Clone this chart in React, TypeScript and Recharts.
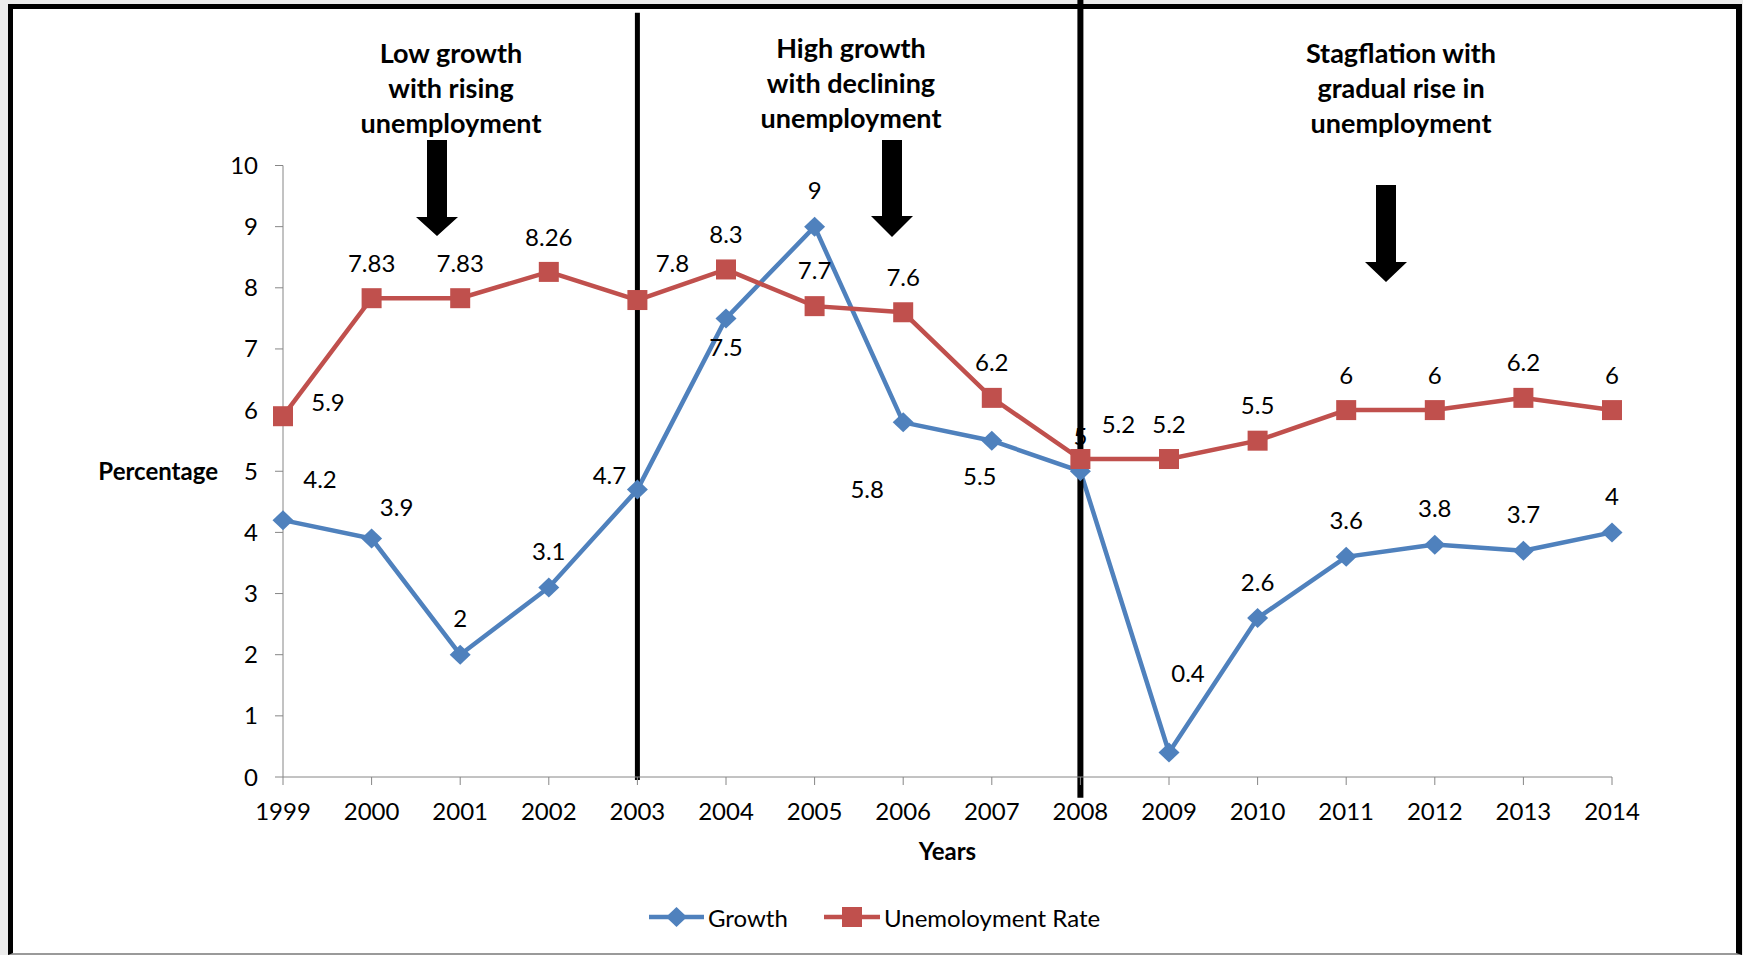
import React from "react";
import { LineChart, Line, XAxis, YAxis, ReferenceLine, LabelList } from "recharts";

const years = ["1999", "2000", "2001", "2002", "2003", "2004", "2005", "2006", "2007", "2008", "2009", "2010", "2011", "2012", "2013", "2014"];
const growth = [4.2, 3.9, 2, 3.1, 4.7, 7.5, 9, 5.8, 5.5, 5, 0.4, 2.6, 3.6, 3.8, 3.7, 4];
const unemployment = [5.9, 7.83, 7.83, 8.26, 7.8, 8.3, 7.7, 7.6, 6.2, 5.2, 5.2, 5.5, 6, 6, 6.2, 6];
const yTicks = [0, 1, 2, 3, 4, 5, 6, 7, 8, 9, 10];

// manual label placement like in the original sheet (dx, dy from the point)
const growthLabelPos = [[37, -42], [25, -32], [0, -37], [0, -37], [-28, -15], [0, 28], [0, -37], [-36, 66], [-12, 35], [0, -36], [19, -80], [0, -37], [0, -37], [0, -37], [0, -37], [0, -37]];
const unempLabelPos = [[45, -15], [0, -36], [0, -36], [0, -35], [35, -38], [0, -36], [0, -37], [0, -36], [0, -36], [38, -36], [0, -36], [0, -36], [0, -36], [0, -36], [0, -36], [0, -36]];

const BLUE = "#4f81bd";
const RED = "#c0504d";
const AXIS = "#868686";
const FONT = "Lato, 'Liberation Sans', sans-serif";
const FS = 24;

const data = years.map((year, i) => ({ year, growth: growth[i], unemp: unemployment[i] }));

const Diamond = (props: any) => {
  const { cx, cy } = props;
  if (cx == null || cy == null) return null;
  return <polygon points={`${cx},${cy - 10} ${cx + 10.5},${cy} ${cx},${cy + 10} ${cx - 10.5},${cy}`} fill={BLUE} />;
};

const Square = (props: any) => {
  const { cx, cy } = props;
  if (cx == null || cy == null) return null;
  return <rect x={cx - 10} y={cy - 10} width={20} height={20} fill={RED} />;
};

const makeLabel = (pos: number[][]) => (props: any) => {
  const { x, y, value, index } = props;
  const [dx, dy] = pos[index] || [0, -36];
  return (
    <text x={x + dx} y={y + dy} textAnchor="middle" dominantBaseline="central" fontSize={FS} fill="#000" fontFamily={FONT}>
      {value}
    </text>
  );
};

const notes = [
  { cx: 451, y: 52, lines: ["Low growth", "with rising", "unemployment"] },
  { cx: 851, y: 47, lines: ["High growth", "with declining", "unemployment"] },
  { cx: 1401, y: 52, lines: ["Stagflation with", "gradual rise in", "unemployment"] },
];

const arrows = [
  { cx: 437, top: 140, neck: 217, tip: 236 },
  { cx: 892, top: 140, neck: 216, tip: 237 },
  { cx: 1386, top: 185, neck: 262, tip: 282 },
];

export default function App() {
  return (
    <div style={{ position: "absolute", left: 0, top: 0, width: 1743, height: 955, background: "#ececec", fontFamily: FONT, overflow: "hidden" }}>
      <div
        style={{
          position: "absolute", left: 8, top: 4, width: 1734, height: 951, boxSizing: "border-box", background: "#fff",
          borderLeft: "5px solid #000", borderTop: "5px solid #000", borderRight: "6px solid #000", borderBottom: "2px solid #9a9a9a",
        }}
      />
      <div style={{ position: "absolute", left: 0, top: 0 }}>
        <LineChart width={1743} height={955} data={data} margin={{ top: 165.5, right: 131, bottom: 148, left: 223 }}>
          <XAxis
            dataKey="year"
            stroke={AXIS}
            tickSize={8}
            tickMargin={18}
            tick={{ fill: "#000", fontSize: FS }}
            tickLine={{ stroke: AXIS }}
            label={{ value: "Years", position: "bottom", offset: 36, style: { fontWeight: 700, fontSize: FS, fill: "#000" } }}
          />
          <YAxis
            domain={[0, 10]}
            ticks={yTicks}
            stroke={AXIS}
            tickSize={8}
            tickMargin={17}
            tick={{ fill: "#000", fontSize: FS }}
            tickLine={{ stroke: AXIS }}
            label={{ value: "Percentage", position: "left", offset: 5, angle: 0, style: { fontWeight: 700, fontSize: FS, fill: "#000", textAnchor: "end" } }}
          />
          <Line dataKey="growth" name="Growth" stroke={BLUE} strokeWidth={4.5} dot={<Diamond />} activeDot={false} isAnimationActive={false}>
            <LabelList dataKey="growth" content={makeLabel(growthLabelPos)} />
          </Line>
          <Line dataKey="unemp" name="Unemoloyment Rate" stroke={RED} strokeWidth={4.5} dot={<Square />} activeDot={false} isAnimationActive={false}>
            <LabelList dataKey="unemp" content={makeLabel(unempLabelPos)} />
          </Line>
          <ReferenceLine segment={[{ x: "2003", y: 12.5 }, { x: "2003", y: -0.05 }]} stroke="#000" strokeWidth={5} ifOverflow="visible" />
          <ReferenceLine segment={[{ x: "2008", y: 12.8 }, { x: "2008", y: -0.34 }]} stroke="#000" strokeWidth={6} ifOverflow="visible" />
        </LineChart>
      </div>
      <svg width={1743} height={955} style={{ position: "absolute", left: 0, top: 0, pointerEvents: "none" }}>
        {notes.map((n, i) => (
          <g key={i}>
            {n.lines.map((t, j) => (
              <text key={j} x={n.cx} y={n.y + j * 35} textAnchor="middle" dominantBaseline="central" fontSize={27} fontWeight={700} fill="#000" fontFamily={FONT}>
                {t}
              </text>
            ))}
          </g>
        ))}
        {arrows.map((a, i) => (
          <polygon
            key={i}
            points={`${a.cx - 10},${a.top} ${a.cx + 10},${a.top} ${a.cx + 10},${a.neck} ${a.cx + 21},${a.neck} ${a.cx},${a.tip} ${a.cx - 21},${a.neck} ${a.cx - 10},${a.neck}`}
            fill="#000"
          />
        ))}
        <g>
          <line x1={649} y1={917} x2={704} y2={917} stroke={BLUE} strokeWidth={4.5} />
          <polygon points="676.5,907 687,917 676.5,927 666,917" fill={BLUE} />
          <text x={708} y={917} dominantBaseline="central" fontSize={FS} fill="#000" fontFamily={FONT}>Growth</text>
          <line x1={824} y1={917} x2={880} y2={917} stroke={RED} strokeWidth={4.5} />
          <rect x={842} y={907} width={20} height={20} fill={RED} />
          <text x={884} y={917} dominantBaseline="central" fontSize={FS} fill="#000" fontFamily={FONT}>Unemoloyment Rate</text>
        </g>
      </svg>
    </div>
  );
}
